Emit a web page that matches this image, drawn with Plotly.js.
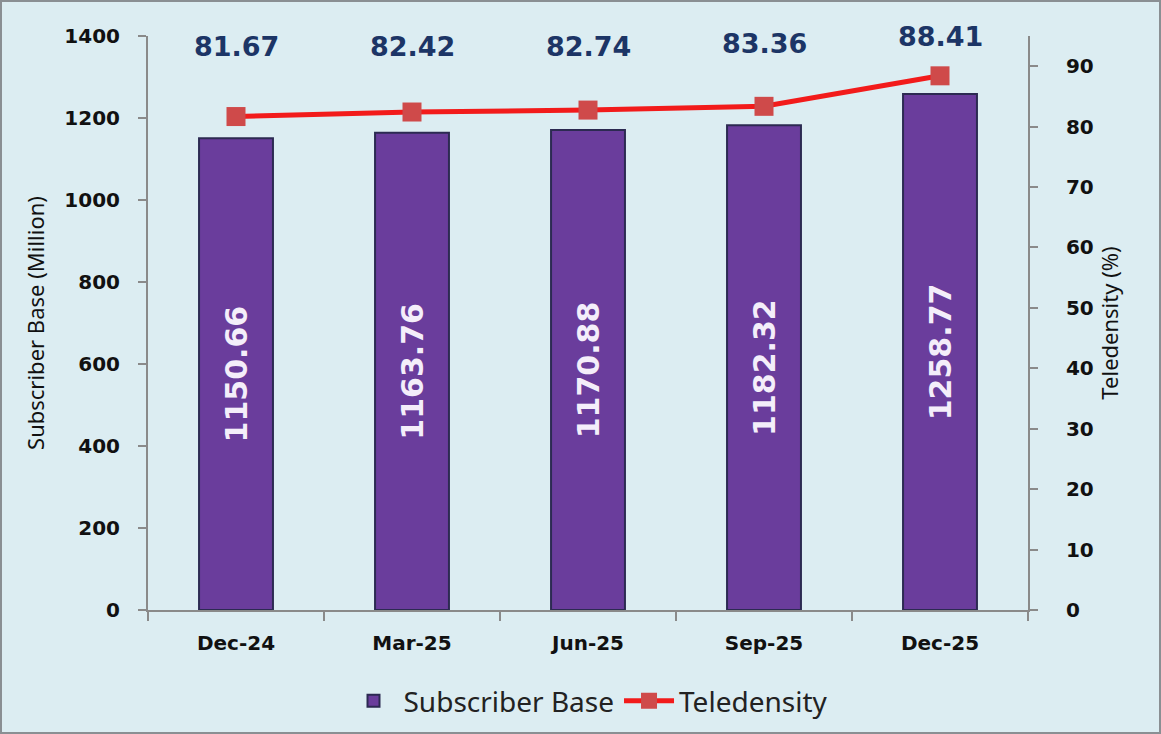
<!DOCTYPE html>
<html>
<head>
<meta charset="utf-8">
<script src="https://cdn.plot.ly/plotly-3.0.1.min.js"></script>
<style>
  html, body { margin: 0; padding: 0; background: #ffffff; }
  #frame { width: 1157px; height: 730px; border: 2px solid #8a8f93; background: #dcedf2; }
  #chart { width: 1157px; height: 730px; }
</style>
</head>
<body>
<div id="frame"><div id="chart"></div></div>
<script>
// ---- data ----
const categories = ["Dec-24", "Mar-25", "Jun-25", "Sep-25", "Dec-25"];
const subscriberBase = [1150.66, 1163.76, 1170.88, 1182.32, 1258.77];
const teledensity = [81.67, 82.42, 82.74, 83.36, 88.41];

// ---- style ----
const labelShift = [70, 66, 64, 63, 39];
const bg = "#dcedf2";
const axisGray = "#8a8a8a";

const barTrace = {
  type: "bar",
  name: "Subscriber Base",
  x: categories,
  y: subscriberBase,
  yaxis: "y",
  width: 0.42,
  marker: { color: "#6a3d9c", line: { color: "#2c2a52", width: 2 } },
  texttemplate: "%{y:.2f}",
  textposition: "inside",
  insidetextanchor: "middle",
  textangle: -90,
  constraintext: "none",
  textfont: { family: "DejaVu Sans", size: 30, color: "#f4eefa", weight: "bold" },
  hoverinfo: "x+y"
};

const lineTrace = {
  type: "scatter",
  mode: "lines+markers",
  name: "Teledensity",
  x: categories,
  y: teledensity,
  yaxis: "y2",
  line: { color: "#f21b1b", width: 5 },
  marker: { symbol: "square", size: 19, color: "#cf4a4a" },
  hoverinfo: "x+y"
};

const annotations = categories.map((c, i) => ({
  x: c,
  y: teledensity[i],
  xref: "x",
  yref: "y2",
  text: teledensity[i].toFixed(2),
  showarrow: false,
  yshift: labelShift[i],
  font: { family: "DejaVu Sans", size: 27, color: "#1c3566", weight: "bold" }
}));

const layout = {
  width: 1157,
  height: 730,
  paper_bgcolor: bg,
  plot_bgcolor: bg,
  margin: { l: 146, r: 131, t: 34, b: 122, autoexpand: false },
  showlegend: true,
  legend: {
    orientation: "h",
    x: 0.5, xanchor: "center",
    y: -0.115, yanchor: "top",
    font: { family: "Noto Sans", size: 28, color: "#222222" },
    bgcolor: "rgba(0,0,0,0)",
    itemwidth: 50,
    traceorder: "normal"
  },
  xaxis: {
    type: "category",
    showline: true,
    linecolor: axisGray,
    linewidth: 2,
    ticks: "outside",
    tickson: "boundaries",
    ticklen: 9,
    tickcolor: axisGray,
    tickwidth: 2,
    showgrid: false,
    zeroline: false,
    ticklabelstandoff: 14,
    tickfont: { family: "DejaVu Sans", size: 20, color: "#111111", weight: "bold" }
  },
  yaxis: {
    range: [0, 1400],
    dtick: 200,
    showline: true,
    linecolor: axisGray,
    linewidth: 2,
    ticks: "outside",
    ticklen: 8,
    tickcolor: axisGray,
    tickwidth: 2,
    showgrid: false,
    zeroline: false,
    tickfont: { family: "DejaVu Sans", size: 20, color: "#111111", weight: "bold" },
    ticklabelstandoff: 14,
    title: { text: "Subscriber Base (Million)", font: { family: "Noto Sans", size: 22, color: "#111111" }, standoff: 14 }
  },
  yaxis2: {
    overlaying: "y",
    side: "right",
    range: [0, 95],
    dtick: 10,
    showline: true,
    linecolor: axisGray,
    linewidth: 2,
    ticks: "outside",
    ticklen: 8,
    tickcolor: axisGray,
    tickwidth: 2,
    showgrid: false,
    zeroline: false,
    tickprefix: "\u2007",
    tickfont: { family: "DejaVu Sans", size: 20, color: "#111111", weight: "bold" },
    ticklabelstandoff: 10,
    title: { text: "Teledensity (%)", font: { family: "Noto Sans", size: 22, color: "#111111" }, standoff: 8 }
  },
  annotations: annotations
};

Plotly.newPlot("chart", [barTrace, lineTrace], layout, { displayModeBar: false, staticPlot: true });
</script>
</body>
</html>
